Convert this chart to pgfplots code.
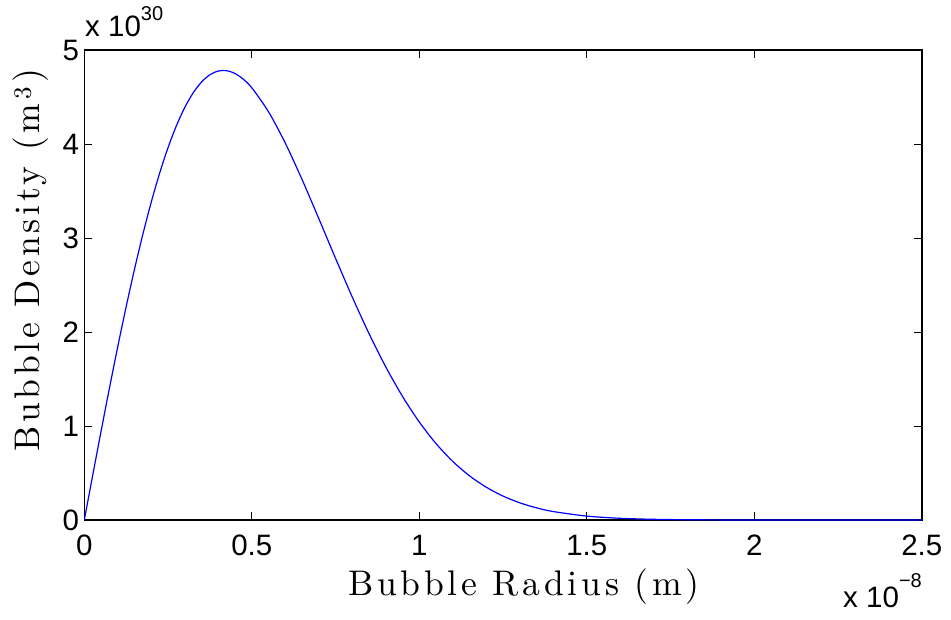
\documentclass[border=0pt]{standalone}
\usepackage{fontspec}
\usepackage{pgfplots}
\pgfplotsset{compat=1.18}
\newfontfamily\hel{Liberation Sans}
\newfontfamily\lbl[LetterSpace=10.5]{lmroman10-regular.otf}
\begin{document}
\begin{tikzpicture}
\begin{axis}[
  name=ax, at={(0,0)}, anchor=south west,
  scale only axis, width=837.5pt, height=470pt,
  xmin=0, xmax=2.5, ymin=0, ymax=5,
  xtick={0,0.5,1,1.5,2,2.5}, ytick={0,1,2,3,4,5},
  tick align=inside, major tick length=8pt,
  axis line style={line width=1.5pt},
  every tick/.style={black, line width=1pt},
  /pgf/number format/assume math mode=true,
  ticklabel style={font=\hel\fontsize{29.5}{35}\selectfont, inner sep=0pt},
  xticklabel style={yshift=-15pt},
  yticklabel style={xshift=-5pt},
  xlabel={\lbl\fontsize{35.6}{42}\selectfont Bubble Radius (m)},
  ylabel={\lbl\fontsize{35.6}{42}\selectfont Bubble Density (m\kern4pt\textsuperscript{3}\kern4pt)},
  xlabel style={at={(axis description cs:0.525,-0.1596)}, anchor=base, inner sep=0pt},
  ylabel style={at={(axis description cs:-0.0529,0.553)}, anchor=base, inner sep=0pt},
]
\addplot[blue, line width=1.2pt, smooth] coordinates {
(0,0) (0.025,0.4741) (0.05,0.9431) (0.075,1.4019) (0.1,1.8456) (0.125,2.2697)
(0.15,2.6698) (0.175,3.0421) (0.2,3.3834) (0.225,3.6907) (0.25,3.9618)
(0.275,4.1951) (0.3,4.3893) (0.325,4.5442) (0.35,4.6598) (0.375,4.7367)
(0.4,4.7763) (0.425,4.7799) (0.45,4.7498) (0.475,4.6880) (0.5,4.5976)
(0.55,4.3424) (0.6,4.0089) (0.65,3.6226) (0.7,3.2066) (0.75,2.7837)
(0.8,2.3712) (0.85,1.9827) (0.9,1.6284) (0.95,1.3140) (1.0,1.0425)
(1.05,0.8126) (1.1,0.6232) (1.15,0.4698) (1.2,0.3488) (1.25,0.2544)
(1.3,0.1828) (1.35,0.1293) (1.4,0.0899) (1.5,0.0415) (1.6,0.0180)
(1.7,0.0073) (1.8,0.0028) (1.9,0.0010) (2.0,0.0003) (2.25,0.0000) (2.5,0.0000)
};
\end{axis}
\node[anchor=base west, inner sep=0pt, font=\hel\fontsize{29.5}{35}\selectfont] at (0.7pt,483pt) {x 10\raisebox{16pt}{\fontsize{20}{24}\selectfont 30}};
\node[anchor=base east, inner sep=0pt, font=\hel\fontsize{29.5}{35}\selectfont] at (837.7pt,-87pt) {x 10\raisebox{20pt}{\fontsize{20}{24}\selectfont −8}};
\pgfresetboundingbox
\path[use as bounding box] (-84.3pt,-99pt) rectangle (866.7pt,520pt);
\end{tikzpicture}
\end{document}
